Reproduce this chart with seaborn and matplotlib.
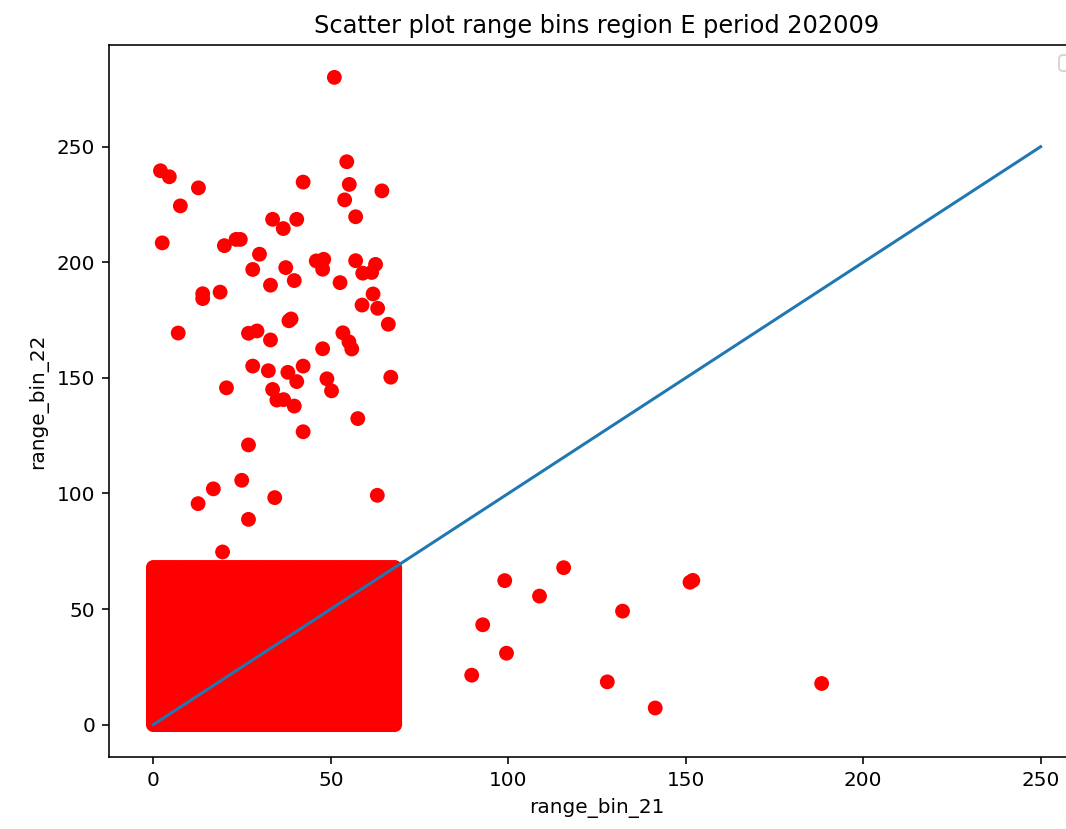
import warnings

import numpy as np
import pandas as pd
import matplotlib
matplotlib.use("Agg")
import matplotlib.pyplot as plt
import seaborn as sns

# Scattered observations outside the dense core (range_bin_21, range_bin_22)
outlier_bin21 = [
    51, 2, 4.5, 12.7, 7.6, 2.5, 42.2, 54.5, 55.2, 64.4, 53.9, 57.0, 33.6, 36.6,
    40.4, 20.0, 23.3, 24.5, 29.9, 28.0, 37.3, 33.0, 39.7, 45.9, 48.0, 47.7, 52.6,
    57.0, 62.6, 59.0, 61.5, 61.9, 58.8, 63.2, 13.9, 13.9, 18.8,
    66.2, 38.8, 38.2, 7.0, 26.8, 29.2, 33.0, 47.7, 53.4, 55.1, 55.9, 28.0, 32.4,
    37.9, 42.2, 40.4, 48.9, 50.2, 66.9, 20.6, 33.6, 34.8, 36.7, 39.7, 57.6, 42.2,
    26.8, 24.9, 16.9, 12.6, 34.2, 63.1, 26.8, 19.5,
    115.6, 99.0, 151.2, 152.0, 108.8, 132.2, 92.8, 99.5, 89.7, 127.9, 188.3, 141.4,
]
outlier_bin22 = [
    280, 239.6, 237, 232.2, 224.4, 208.4, 234.7, 243.5, 233.7, 230.9, 227, 219.7,
    218.6, 214.6, 218.6, 207.2, 209.9, 209.9, 203.5, 196.9, 197.7, 190.1, 192.1,
    200.6, 201.3, 197, 191.2, 200.7, 199.1, 195.3, 195.6, 186.3, 181.5, 180.1,
    186.4, 184.3, 187.1,
    173.2, 175.5, 174.7, 169.4, 169.3, 170.3, 166.4, 162.6, 169.5, 165.6, 162.5,
    155.1, 153.1, 152.4, 155.1, 148.4, 149.6, 144.4, 150.3, 145.7, 145, 140.4,
    140.6, 137.8, 132.4, 126.7, 121.0, 105.7, 102, 95.6, 98.2, 99.2, 88.8, 74.7,
    67.9, 62.3, 61.6, 62.4, 55.6, 49.1, 43.2, 30.9, 21.4, 18.5, 17.8, 7.2,
]

# Dense core: every pairing of bin counts 0..68 occurs in both bins
core_bin21_levels = list(range(0, 69))
core_bin22_levels = list(range(0, 69))

# Reference diagonal y = x
diag_ends = [0, 250]

core_x, core_y = np.meshgrid(core_bin21_levels, core_bin22_levels)
df = pd.DataFrame({
    "range_bin_21": np.concatenate([core_x.ravel(), outlier_bin21]),
    "range_bin_22": np.concatenate([core_y.ravel(), outlier_bin22]),
})

DPI = 144
fig = plt.figure(figsize=(1066 / DPI, 829 / DPI), dpi=DPI)
ax = fig.add_axes([109 / 1066, 72 / 829, 976 / 1066, 712 / 829])

sns.scatterplot(data=df, x="range_bin_21", y="range_bin_22", color="red",
                s=55, linewidth=0, edgecolor="none", ax=ax)
sns.lineplot(x=diag_ends, y=diag_ends, color="#1f77b4", linewidth=1.5, ax=ax)

ax.set_title("Scatter plot range bins region E period 202009")
ax.set_xlabel("range_bin_21")
ax.set_ylabel("range_bin_22")

with warnings.catch_warnings():
    warnings.simplefilter("ignore")
    ax.legend(loc="upper right")

fig.savefig("out.png", dpi=DPI)
